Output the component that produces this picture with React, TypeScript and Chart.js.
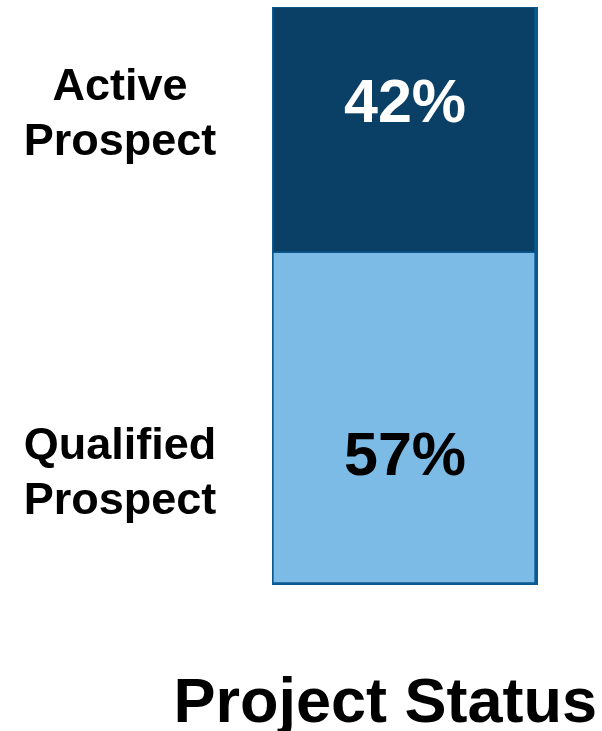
import React, { useEffect, useRef } from "react";
import { Chart, registerables } from "chart.js";

Chart.register(...registerables);

const categories = ["Project Status"];
const segmentNames = [
  ["Qualified", "Prospect"],
  ["Active", "Prospect"],
];
const segmentValues = [57, 42];
const segmentColors = ["#7bbbe5", "#0b4066"];
const percentColors = ["#000000", "#ffffff"];
const chartTitle = "Project Status";

const FONT = '"Liberation Sans", Arial, Helvetica, sans-serif';

// text anchoring: bottom segment measured up from its base, top segment down from its top
const percentOffset = [-127, 98];
const nameOffset = [-111, 108];

const labelPlugin = {
  id: "segmentLabels",
  afterDatasetsDraw(chart: any) {
    const ctx = chart.ctx;
    ctx.save();
    chart.data.datasets.forEach((ds: any, i: number) => {
      const meta = chart.getDatasetMeta(i);
      const el = meta.data[0];
      if (!el) return;
      const props = el.getProps(["x", "y", "base"], true);
      const ref = i === 0 ? props.base : props.y;
      ctx.textAlign = "center";
      ctx.textBaseline = "middle";
      ctx.fillStyle = percentColors[i];
      ctx.font = `bold 61px ${FONT}`;
      ctx.fillText(`${ds.data[0]}%`, props.x, ref + percentOffset[i]);
      ctx.fillStyle = "#000000";
      ctx.font = `bold 45px ${FONT}`;
      const lines = segmentNames[i];
      const lh = 55;
      const cy = ref + nameOffset[i];
      lines.forEach((ln, k) => {
        ctx.fillText(ln, 120, cy + (k - (lines.length - 1) / 2) * lh);
      });
    });
    // title
    ctx.textAlign = "right";
    ctx.textBaseline = "alphabetic";
    ctx.fillStyle = "#000000";
    ctx.font = `bold 63px ${FONT}`;
    ctx.fillText(chartTitle, 597, 722);
    ctx.restore();
  },
};

export default function App() {
  const ref = useRef<HTMLCanvasElement>(null);
  useEffect(() => {
    if (!ref.current) return;
    const chart = new Chart(ref.current, {
      type: "bar",
      data: {
        labels: categories,
        datasets: segmentValues.map((v, i) => ({
          label: segmentNames[i].join(" "),
          data: [v],
          backgroundColor: segmentColors[i],
          borderColor: "#0a5a91",
          borderWidth: { left: 2, right: 4, bottom: i === 0 ? 3 : 1, top: 1 },
          borderSkipped: false,
          barPercentage: 1,
          categoryPercentage: 1,
        })),
      },
      options: {
        animation: false,
        responsive: false,
        maintainAspectRatio: false,
        layout: { padding: { left: 272, right: 64, top: 7, bottom: 146 } },
        plugins: {
          legend: { display: false },
          tooltip: { enabled: false },
          title: { display: false },
        },
        scales: {
          x: { display: false, stacked: true },
          y: { display: false, stacked: true, min: 0, max: 99 },
        },
      },
      plugins: [labelPlugin],
    });
    return () => chart.destroy();
  }, []);
  return (
    <div style={{ position: "absolute", left: 0, top: 0, width: 602, height: 731 }}>
      <canvas ref={ref} width={602} height={731} style={{ width: 602, height: 731 }} />
    </div>
  );
}
